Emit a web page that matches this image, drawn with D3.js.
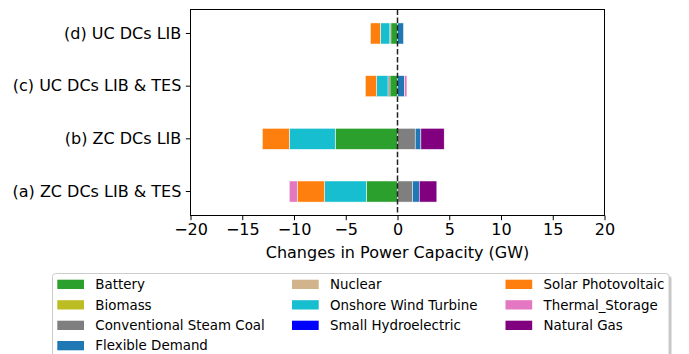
<!DOCTYPE html>
<html>
<head>
<meta charset="utf-8">
<script src="https://cdn.jsdelivr.net/npm/d3@7"></script>
<style>
  html, body { margin: 0; padding: 0; background: #fff; }
  svg text { font-family: "DejaVu Sans", sans-serif; fill: #000; }
</style>
</head>
<body>
<svg id="chart" width="689" height="354"></svg>
<script>
// Scenarios, bottom to top
const scenarios = ["(a) ZC DCs LIB & TES", "(b) ZC DCs LIB", "(c) UC DCs LIB & TES", "(d) UC DCs LIB"];

// Technologies in stacking / legend order
const technologies = [
  "Battery", "Biomass", "Conventional Steam Coal", "Flexible Demand", "Nuclear",
  "Onshore Wind Turbine", "Small Hydroelectric", "Solar Photovoltaic", "Thermal_Storage", "Natural Gas"
];
const techColors = [
  "#2ca02c", "#bcbd22", "#7f7f7f", "#1f77b4", "#d2b48c",
  "#17becf", "#0000ff", "#ff7f0e", "#e377c2", "#800080"
];

// Capacity change (GW) per technology, one value per scenario (a, b, c, d)
const battery      = [-3.02, -6.02, -0.73, -0.64];
const biomass      = [0, 0, 0, 0];
const steamCoal    = [1.45, 1.71, -0.19, -0.10];
const flexDemand   = [0.65, 0.55, 0.68, 0.58];
const nuclear      = [0, 0, 0, 0];
const onshoreWind  = [-4.03, -4.44, -1.10, -0.91];
const smallHydro   = [0, 0, 0, 0];
const solarPV      = [-2.64, -2.60, -1.09, -0.97];
const thermalStore = [-0.77, 0, 0.23, 0];
const naturalGas   = [1.70, 2.25, 0, 0];

const xTicks = [-20, -15, -10, -5, 0, 5, 10, 15, 20];

const seriesValues = [battery, biomass, steamCoal, flexDemand, nuclear,
                      onshoreWind, smallHydro, solarPV, thermalStore, naturalGas];

const svg = d3.select("#chart");
const plot = { left: 190.5, right: 604.5, top: 9.5, bottom: 215.5 };

const x = d3.scaleLinear().domain([-20, 20]).range([plot.left, plot.right]);
const y = d3.scaleBand()
  .domain(scenarios.slice().reverse())
  .range([plot.top, plot.bottom])
  .paddingInner(0.6)
  .paddingOuter(0.255);

// Diverging stack: positives grow right from zero, negatives grow left
const segments = [];
scenarios.forEach((s, i) => {
  let pos = 0, neg = 0;
  seriesValues.forEach((vals, k) => {
    const v = vals[i];
    if (v > 0) { segments.push({ s, k, x0: pos, x1: pos + v }); pos += v; }
    else if (v < 0) { segments.push({ s, k, x0: neg + v, x1: neg }); neg += v; }
  });
});

svg.append("g").selectAll("rect").data(segments).join("rect")
  .attr("x", d => x(d.x0))
  .attr("width", d => x(d.x1) - x(d.x0))
  .attr("y", d => y(d.s))
  .attr("height", y.bandwidth())
  .attr("fill", d => techColors[d.k])
  .attr("stroke", "#fff")
  .attr("stroke-width", 0.5);

// Zero reference line
svg.append("line")
  .attr("x1", x(0)).attr("x2", x(0))
  .attr("y1", plot.top).attr("y2", plot.bottom)
  .attr("stroke", "#222").attr("stroke-width", 1.5)
  .attr("stroke-dasharray", "5.5,2.4");

// Frame
svg.append("rect")
  .attr("x", plot.left).attr("y", plot.top)
  .attr("width", plot.right - plot.left).attr("height", plot.bottom - plot.top)
  .attr("fill", "none").attr("stroke", "#000").attr("stroke-width", 1);

// X axis
const xAxis = svg.append("g")
  .attr("transform", `translate(0,${plot.bottom})`)
  .call(d3.axisBottom(x).tickValues(xTicks).tickSize(4.7).tickPadding(3.5)
        .tickFormat(d => d < 0 ? "\u2212" + Math.abs(d) : d));
xAxis.select(".domain").remove();
xAxis.selectAll("text").style("font-size", "16px");

svg.append("text")
  .attr("x", (plot.left + plot.right) / 2).attr("y", 258)
  .attr("text-anchor", "middle").style("font-size", "16px")
  .text("Changes in Power Capacity (GW)");

// Y axis
const yAxis = svg.append("g")
  .attr("transform", `translate(${plot.left},0)`)
  .call(d3.axisLeft(y).tickSize(4.7).tickPadding(4.5));
yAxis.select(".domain").remove();
yAxis.selectAll("text").style("font-size", "16px");

// Legend
const legend = svg.append("g");
const lg = { x: 52.5, y: 273.5, w: 616.5, h: 90 };
legend.append("rect")
  .attr("x", lg.x + 2.5).attr("y", lg.y + 2.5)
  .attr("width", lg.w).attr("height", lg.h).attr("rx", 3)
  .attr("fill", "#999").attr("opacity", 0.55);
legend.append("rect")
  .attr("x", lg.x).attr("y", lg.y)
  .attr("width", lg.w).attr("height", lg.h).attr("rx", 3)
  .attr("fill", "#fff").attr("stroke", "#ccc").attr("stroke-width", 1);

const colX = [57.3, 292, 505.5];
const rowY = [284.3, 304.8, 325.3, 345.6];
const perCol = [4, 3, 3];
let idx = 0;
perCol.forEach((n, c) => {
  for (let r = 0; r < n; r++, idx++) {
    const item = legend.append("g");
    item.append("rect")
      .attr("x", colX[c]).attr("y", rowY[r] - 4.6)
      .attr("width", 26.7).attr("height", 9.3)
      .attr("fill", techColors[idx]);
    item.append("text")
      .attr("x", colX[c] + 38).attr("y", rowY[r] + 4.8)
      .style("font-size", "13.4px")
      .text(technologies[idx]);
  }
});
</script>
</body>
</html>
